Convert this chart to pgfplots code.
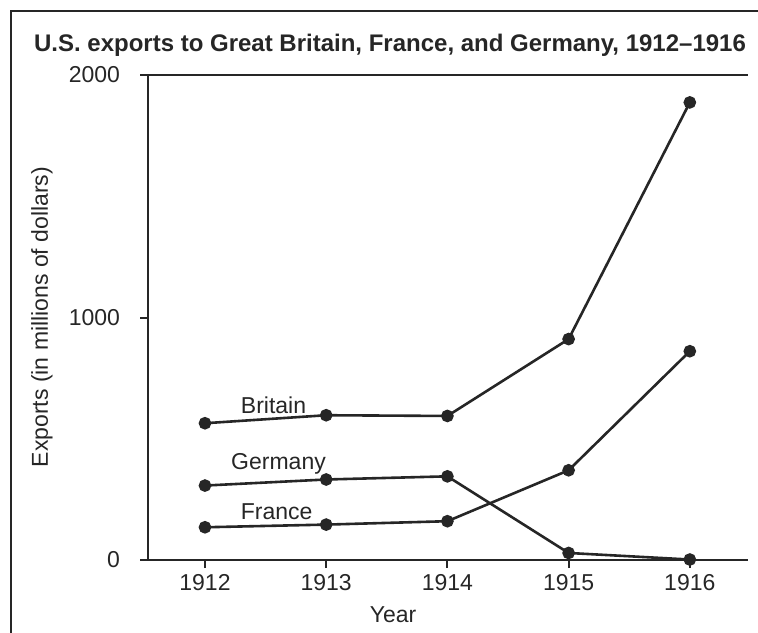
\documentclass[border=0pt]{standalone}
\usepackage{pgfplots}
\pgfplotsset{compat=1.18}
\usepackage{fontspec}
\setmainfont{Liberation Sans}
\begin{document}
\fontsize{11.5pt}{13pt}\selectfont
\begin{tikzpicture}
\useasboundingbox (0,0) rectangle (379pt,316pt);
\draw[line width=1.3pt, black!85] (5.5pt,-2pt) -- (5.5pt,310.5pt) -- (381pt,310.5pt);
\node[font=\bfseries\fontsize{12pt}{14pt}\selectfont, text=black!85] at (195pt,293.5pt) {U.S. exports to Great Britain, France, and Germany, 1912--1916};
\node[rotate=90, text=black!85] at (21pt,157.5pt) {Exports (in millions of dollars)};
\node[text=black!85] at (196.5pt,8.5pt) {Year};
\begin{axis}[
  at={(74pt,36pt)}, anchor=south west, scale only axis,
  width=300pt, height=242.5pt,
  xmin=1911.53, xmax=1916.48, ymin=0, ymax=2000,
  axis x line=bottom, axis y line=left,
  axis line style={-, line width=1pt, black!85},
  xtick={1912,1913,1914,1915,1916},
  xticklabels={1912,1913,1914,1915,1916},
  ytick={0,1000},
  yticklabels={0,1000},
  extra y ticks={2000}, extra y tick labels={2000},
  extra y tick style={grid=major, major grid style={line width=1pt, black!85}},
  tick align=outside, major tick length=4pt,
  tick style={line width=1pt, black!85},
  /pgf/number format/assume math mode=true,
  tick label style={font=\fontsize{11.5pt}{13pt}\selectfont, text=black!85},
  yticklabel style={xshift=-6pt},
  xticklabel style={yshift=1pt},
  clip=false,
]
\addplot[line width=1.3pt, black!85, mark=*, mark size=2.5pt, mark options={solid, fill=black!85}] coordinates {(1912,564) (1913,597) (1914,594) (1915,911) (1916,1887)};
\addplot[line width=1.3pt, black!85, mark=*, mark size=2.5pt, mark options={solid, fill=black!85}] coordinates {(1912,135) (1913,146) (1914,160) (1915,370) (1916,861)};
\addplot[line width=1.3pt, black!85, mark=*, mark size=2.5pt, mark options={solid, fill=black!85}] coordinates {(1912,307) (1913,332) (1914,345) (1915,29) (1916,2)};
\node[anchor=base west, text=black!85] at (axis cs:1912.23,606) {Britain};
\node[anchor=base west, text=black!85] at (axis cs:1912.15,375) {Germany};
\node[anchor=base west, text=black!85] at (axis cs:1912.23,165) {France};
\end{axis}
\end{tikzpicture}
\end{document}
